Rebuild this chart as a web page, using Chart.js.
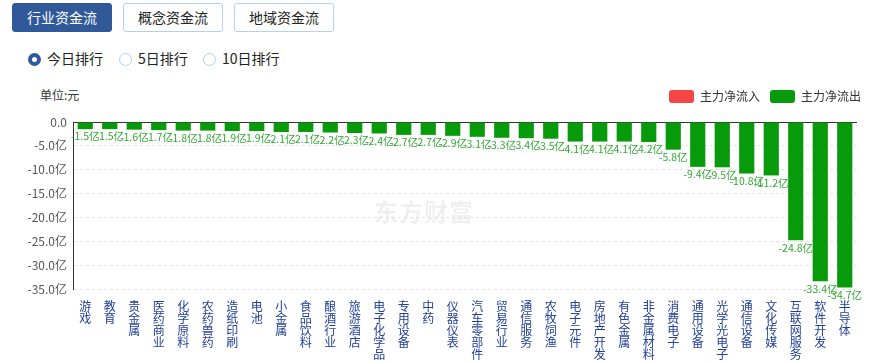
<!DOCTYPE html>
<html>
<head>
<meta charset="utf-8">
<script src="https://cdn.jsdelivr.net/npm/chart.js@4"></script>
<style>
body { margin:0; width:871px; height:362px; background:#fff; font-family:"Noto Sans CJK SC","Noto Sans",sans-serif; position:relative; overflow:hidden; }
.btn { position:absolute; top:3px; height:29px; width:100px; box-sizing:border-box; border:1px solid #b5d0ea; border-radius:3px; font-size:14px; line-height:27px; text-align:center; color:#222; background:#fff; }
.btn.on { background:#30599a; border-color:#30599a; color:#fff; }
.radio { position:absolute; top:48px; font-size:14px; color:#222; line-height:20px; }
.radio i { display:inline-block; width:13px; height:13px; border:1px solid #b5d0ea; border-radius:50%; vertical-align:-2px; margin-right:6px; box-sizing:border-box; }
.radio i.on { border:4px solid #30599a; }
#unit { position:absolute; left:40px; top:86px; font-size:12px; color:#333; }
#wm { position:absolute; left:374px; top:193px; font-size:24px; font-weight:bold; color:rgba(0,0,0,0.07); letter-spacing:1px; }
#box { position:absolute; left:0; top:80px; width:871px; height:282px; }
</style>
</head>
<body>
<div class="btn on" style="left:12px">行业资金流</div>
<div class="btn" style="left:123px">概念资金流</div>
<div class="btn" style="left:234px">地域资金流</div>
<div class="radio" style="left:28px"><i class="on"></i>今日排行</div>
<div class="radio" style="left:119px"><i></i>5日排行</div>
<div class="radio" style="left:203px"><i></i>10日排行</div>
<div id="unit">单位:元</div>
<div id="wm">东方财富</div>
<div id="box"><canvas id="chart"></canvas></div>
<script>
// industry names and main net flow (亿元)
const industries = ['游戏','教育','贵金属','医药商业','化学原料','农药兽药','造纸印刷','电池','小金属','食品饮料',
  '酿酒行业','旅游酒店','电子化学品','专用设备','中药','仪器仪表','汽车零部件','贸易行业','通信服务','农牧饲渔',
  '电子元件','房地产开发','有色金属','非金属材料','消费电子','通用设备','光学光电子','通信设备','文化传媒','互联网服务',
  '软件开发','半导体'];
const netFlow = [-1.5,-1.5,-1.6,-1.7,-1.8,-1.8,-1.9,-1.9,-2.1,-2.1,
  -2.2,-2.3,-2.4,-2.7,-2.7,-2.9,-3.1,-3.3,-3.4,-3.5,
  -4.1,-4.1,-4.1,-4.2,-5.8,-9.4,-9.5,-10.8,-11.2,-24.8,
  -33.4,-34.7];
const yTicks = [0,-5,-10,-15,-20,-25,-30,-35];

const inflow = netFlow.map(v => v > 0 ? v : null);
const outflow = netFlow.map(v => v < 0 ? v : null);

const valueLabels = {
  id: 'valueLabels',
  afterInit(chart){
    // a bit more room between the legend and the plot
    const lg = chart.legend;
    const fit = lg.fit.bind(lg);
    lg.fit = function(){ fit(); this.height += 9; };
  },
  beforeDatasetsDraw(chart){
    const ctx = chart.ctx, a = chart.chartArea;
    const y0 = Math.round(chart.scales.y.getPixelForValue(0)) + 0.5;
    ctx.save();
    ctx.strokeStyle = '#333';
    ctx.lineWidth = 1;
    ctx.beginPath();
    ctx.moveTo(a.left, y0);
    ctx.lineTo(a.right, y0);
    ctx.stroke();
    ctx.restore();
  },
  afterDatasetsDraw(chart){
    const ctx = chart.ctx;
    ctx.save();
    ctx.font = '10.5px "Noto Sans CJK SC", sans-serif';
    ctx.fillStyle = '#33a833';
    ctx.textAlign = 'center';
    ctx.textBaseline = 'top';
    chart.data.datasets.forEach((ds, di) => {
      chart.getDatasetMeta(di).data.forEach((bar, i) => {
        const v = ds.data[i];
        if (v == null) return;
        ctx.fillText(v.toFixed(1) + '亿', bar.x, bar.y + 2);
      });
    });
    ctx.restore();
  }
};

const ctx = document.getElementById('chart').getContext('2d');
new Chart(ctx, {
  type: 'bar',
  data: {
    labels: industries.map(s => s.split('')),
    datasets: [
      { label: '主力净流入', data: inflow, backgroundColor: '#f54545' },
      { label: '主力净流出', data: outflow, backgroundColor: '#079a0b' }
    ]
  },
  options: {
    responsive: true,
    maintainAspectRatio: false,
    animation: false,
    layout: { padding: 0 },
    datasets: { bar: { barPercentage: 0.62, categoryPercentage: 1 } },
    plugins: {
      tooltip: { enabled: false },
      legend: {
        position: 'top',
        align: 'end',
        labels: {
          boxWidth: 25, boxHeight: 13, useBorderRadius: true, borderRadius: 3,
          color: '#333', font: { size: 12, family: '"Noto Sans CJK SC", sans-serif' }, padding: 10
        }
      }
    },
    scales: {
      x: {
        stacked: true,
        grid: { display: false },
        border: { display: false },
        afterFit: s => { s.height = 73; },
        ticks: {
          autoSkip: false, maxRotation: 0, minRotation: 0, padding: 3,
          color: '#22409a',
          font: { size: 12, lineHeight: 1.0, family: '"Noto Sans CJK SC", sans-serif' }
        }
      },
      y: {
        stacked: true,
        min: -35, max: 0,
        afterFit: s => { s.width = 73; },
        afterBuildTicks: s => { s.ticks = yTicks.map(v => ({ value: v })); },
        grid: { color: '#e2e2e2', drawTicks: false },
        border: { display: true, color: '#333', dash: [3, 3] },
        ticks: {
          padding: 6, color: '#555',
          font: { size: 12, family: '"Noto Sans CJK SC", sans-serif' },
          callback: v => v === 0 ? '0.0' : v.toFixed(1) + '亿'
        }
      },
      // empty strip on the right so the plot stops short of the edge
      yRight: {
        position: 'right',
        grid: { display: false },
        border: { display: false },
        ticks: { display: false },
        afterFit: s => { s.width = 14; }
      }
    }
  },
  plugins: [valueLabels]
});
</script>
</body>
</html>
